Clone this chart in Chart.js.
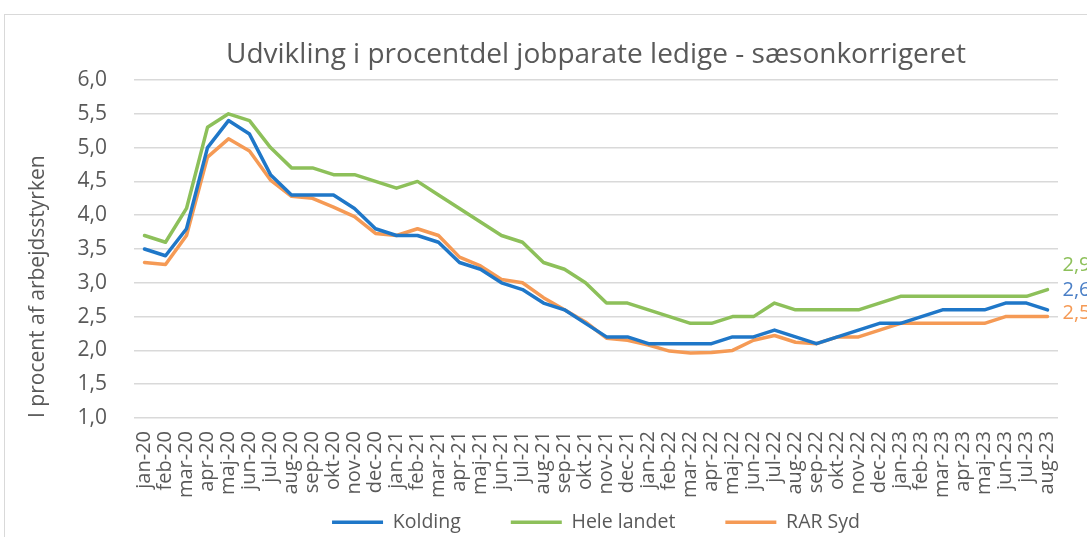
<!DOCTYPE html>
<html><head><meta charset="utf-8">
<script src="https://cdn.jsdelivr.net/npm/chart.js@4"></script>
<style>
html,body{margin:0;padding:0;background:#fff;overflow:hidden;width:1087px;height:537px;}
#frame{position:absolute;left:4px;top:14px;width:1200px;height:600px;border:1px solid #d9d9d9;box-sizing:border-box;}
#c{position:absolute;left:0;top:0;}
</style></head><body>
<div id="frame"></div>
<canvas id="c" width="1087" height="542"></canvas>
<script>
const months = ['jan-20','feb-20','mar-20','apr-20','maj-20','jun-20','jul-20','aug-20','sep-20','okt-20','nov-20','dec-20',
  'jan-21','feb-21','mar-21','apr-21','maj-21','jun-21','jul-21','aug-21','sep-21','okt-21','nov-21','dec-21',
  'jan-22','feb-22','mar-22','apr-22','maj-22','jun-22','jul-22','aug-22','sep-22','okt-22','nov-22','dec-22',
  'jan-23','feb-23','mar-23','apr-23','maj-23','jun-23','jul-23','aug-23'];
const kolding = [3.5,3.4,3.8,5.0,5.4,5.2,4.6,4.3,4.3,4.3,4.1,3.8,
  3.7,3.7,3.6,3.3,3.2,3.0,2.9,2.7,2.6,2.4,2.2,2.2,
  2.1,2.1,2.1,2.1,2.2,2.2,2.3,2.2,2.1,2.2,2.3,2.4,
  2.4,2.5,2.6,2.6,2.6,2.7,2.7,2.6];
const heleLandet = [3.7,3.6,4.1,5.3,5.5,5.4,5.0,4.7,4.7,4.6,4.6,4.5,
  4.4,4.5,4.3,4.1,3.9,3.7,3.6,3.3,3.2,3.0,2.7,2.7,
  2.6,2.5,2.4,2.4,2.5,2.5,2.7,2.6,2.6,2.6,2.6,2.7,
  2.8,2.8,2.8,2.8,2.8,2.8,2.8,2.9];
const rarSyd = [3.3,3.27,3.7,4.86,5.13,4.95,4.52,4.28,4.25,4.12,3.98,3.73,
  3.7,3.8,3.7,3.38,3.25,3.05,3.0,2.78,2.6,2.42,2.18,2.15,
  2.08,1.99,1.96,1.97,2.0,2.15,2.22,2.12,2.1,2.2,2.2,2.3,
  2.4,2.4,2.4,2.4,2.4,2.5,2.5,2.5];
const yTickLabels = ['1,0','1,5','2,0','2,5','3,0','3,5','4,0','4,5','5,0','5,5','6,0'];
const seriesNames = ['Kolding','Hele landet','RAR Syd'];

const TXT = '#595959';
const FONT = '"Open Sans", sans-serif';

const endLabels = {
  id: 'endLabels',
  afterDatasetsDraw(chart) {
    const ctx = chart.ctx;
    chart.data.datasets.forEach((ds, i) => {
      const meta = chart.getDatasetMeta(i);
      const pt = meta.data[meta.data.length - 1];
      const v = ds.data[ds.data.length - 1];
      ctx.save();
      ctx.font = '20px ' + FONT;
      ctx.fillStyle = ds.labelColor;
      ctx.textAlign = 'left';
      ctx.textBaseline = 'middle';
      ctx.fillText(v.toFixed(1).replace('.', ','), pt.x + 15, pt.y + ds.labelDy);
      ctx.restore();
    });
  }
};

const mk = (label, data, color, labelColor, dy) => ({
  label, data, borderColor: color, backgroundColor: color, labelColor, labelDy: dy,
  borderWidth: 3.5, pointRadius: 0, pointHoverRadius: 0, tension: 0,
  borderJoinStyle: 'round', borderCapStyle: 'round', fill: false
});

new Chart(document.getElementById('c'), {
  type: 'line',
  data: {
    labels: months,
    datasets: [
      mk(seriesNames[0], kolding, '#1f77c8', '#4a7fc6', -20),
      mk(seriesNames[1], heleLandet, '#8dc05a', '#8dc05a', -24),
      mk(seriesNames[2], rarSyd, '#f59a55', '#f59a55', -3)
    ]
  },
  options: {
    responsive: false,
    animation: false,
    devicePixelRatio: 1,
    layout: { padding: { left: 0, right: 29, top: 0, bottom: 0 } },
    plugins: {
      title: {
        display: true,
        fullSize: false,
        text: 'Udvikling i procentdel jobparate ledige - sæsonkorrigeret',
        color: TXT,
        font: { family: FONT, size: 28, weight: 'normal', lineHeight: 1.2 },
        padding: { top: 38, bottom: 8.4 }
      },
      legend: {
        position: 'bottom',
        fullSize: false,
        labels: {
          usePointStyle: true,
          pointStyle: 'line',
          pointStyleWidth: 51,
          color: TXT,
          font: { family: FONT, size: 19.5 },
          padding: 50,
          generateLabels(chart) {
            return chart.data.datasets.map((ds, i) => ({
              text: ds.label, fillStyle: ds.borderColor, strokeStyle: ds.borderColor,
              lineWidth: 3.5, pointStyle: 'line', fontColor: TXT, datasetIndex: i, hidden: false
            }));
          }
        }
      },
      tooltip: { enabled: false }
    },
    scales: {
      x: {
        type: 'category',
        offset: true,
        grid: { display: false, drawTicks: false },
        border: { display: false },
        ticks: {
          autoSkip: false, maxRotation: 90, minRotation: 90, padding: 13,
          color: TXT, font: { family: FONT, size: 20 }
        },
        afterFit(s) { s.height = 44.5; s._computeLabelArea = () => undefined; }
      },
      y: {
        min: 1, max: 6,
        grid: { color: '#d9d9d9', lineWidth: 1.5, drawTicks: false },
        border: { display: false },
        ticks: {
          stepSize: 0.5, padding: 27, color: TXT, font: { family: FONT, size: 21 },
          callback: (v, i) => yTickLabels[i]
        },
        title: {
          display: true, text: 'I procent af arbejdsstyrken', align: 'start',
          color: TXT, font: { family: FONT, size: 21, weight: 'normal', lineHeight: 1.2 },
          padding: { top: 25.9, bottom: 0 }
        },
        afterFit(s) { s.width = 134; }
      }
    }
  },
  plugins: [endLabels]
});
</script>
</body></html>
